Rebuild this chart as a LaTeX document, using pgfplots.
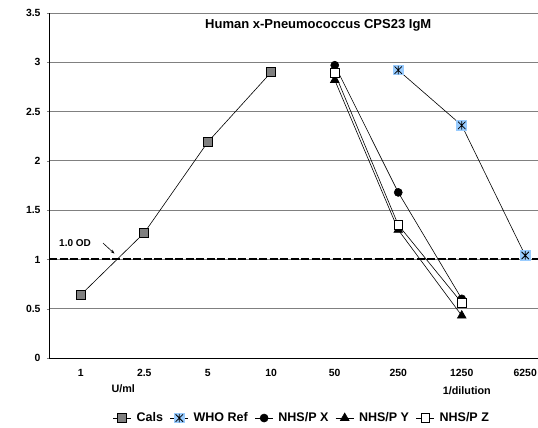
\documentclass[border=0pt]{standalone}
\usepackage{pgfplots}
\pgfplotsset{compat=1.18}
\usepackage{fontspec}
\setmainfont{Liberation Sans}
\usetikzlibrary{arrows.meta}

\definecolor{calgray}{RGB}{128,128,128}
\definecolor{whoblue}{RGB}{153,204,255}

% light blue square with a black star on it (WHO Ref marker)
\pgfdeclareplotmark{whoref}{%
  \pgfpathrectangle{\pgfpoint{-\pgfplotmarksize}{-\pgfplotmarksize}}{\pgfpoint{2\pgfplotmarksize}{2\pgfplotmarksize}}%
  \pgfsetfillcolor{whoblue}\pgfusepath{fill}%
  \pgfsetstrokecolor{black}\pgfsetlinewidth{0.8pt}%
  \pgfpathmoveto{\pgfpoint{-0.7\pgfplotmarksize}{-0.7\pgfplotmarksize}}%
  \pgfpathlineto{\pgfpoint{0.7\pgfplotmarksize}{0.7\pgfplotmarksize}}%
  \pgfpathmoveto{\pgfpoint{-0.7\pgfplotmarksize}{0.7\pgfplotmarksize}}%
  \pgfpathlineto{\pgfpoint{0.7\pgfplotmarksize}{-0.7\pgfplotmarksize}}%
  \pgfpathmoveto{\pgfpoint{0pt}{-0.8\pgfplotmarksize}}%
  \pgfpathlineto{\pgfpoint{0pt}{0.8\pgfplotmarksize}}%
  \pgfusepath{stroke}}

\begin{document}
\begin{tikzpicture}
\begin{axis}[
    scale only axis,
    width=508pt, height=345pt,
    xmin=0.5, xmax=8.5,
    ymin=0, ymax=3.5,
    clip=false,
    axis x line*=bottom,
    axis y line*=left,
    axis line style={black, line width=0.8pt},
    xtick={1,...,8},
    xticklabels={1,2.5,5,10,50,250,1250,6250},
    major x tick style={draw=none},
    extra x ticks={0.5,1.5,...,7.5},
    extra x tick labels={},
    extra x tick style={tick align=outside, major tick length=4pt, tick style={black, line width=0.6pt}},
    ytick={0,0.5,...,3.5},
    tick align=outside,
    major tick length=2pt,
    ymajorgrids,
    grid style={gray, line width=0.8pt},
    /pgf/number format/assume math mode=true,
    tick label style={font=\fontsize{10.4}{12}\selectfont\bfseries},
    xticklabel style={yshift=-6pt},
    yticklabel style={xshift=-3pt},
    legend style={draw=none, fill=none, at={(0.498,-0.174)}, anchor=center,
        legend columns=5, font=\fontsize{12.5}{14}\selectfont\bfseries,
        /tikz/every odd column/.append style={column sep=3pt},
        /tikz/every even column/.append style={column sep=5pt}},
    legend image code/.code={%
        \draw[line width=0.6pt] (0pt,0pt) -- (18pt,0pt);
        \draw plot[mark repeat=1] coordinates {(9pt,0pt)};},
    every axis plot/.append style={black, line width=0.6pt},
]
\addplot[black, line width=2pt, dash pattern=on 8pt off 2.5pt, forget plot] coordinates {(0.5,1) (8.5,1)};

\addplot[mark=square*, mark size=4.5pt, mark options={fill=calgray, draw=black, line width=0.7pt}]
  coordinates {(1,0.64) (2,1.27) (3,2.19) (4,2.90)};
\addlegendentry{Cals}
\addplot[mark=whoref, mark size=5.3pt]
  coordinates {(6,2.92) (7,2.36) (8,1.04)};
\addlegendentry{WHO Ref}
\addplot[mark=*, mark size=4pt, mark options={fill=black}]
  coordinates {(5,2.97) (6,1.68) (7,0.60)};
\addlegendentry{NHS/P X}
\addplot[mark=triangle*, mark size=5pt, mark options={fill=black}]
  coordinates {(5,2.82) (6,1.30) (7,0.43)};
\addlegendentry{NHS/P Y}
\addplot[mark=square*, mark size=4.3pt, mark options={fill=white, draw=black, line width=0.7pt}]
  coordinates {(5,2.89) (6,1.35) (7,0.56)};
\addlegendentry{NHS/P Z}

\node[font=\fontsize{13}{15}\selectfont\bfseries] at (axis cs:4.74,3.37) {Human x-Pneumococcus CPS23 IgM};
\node[font=\fontsize{10}{12}\selectfont\bfseries] at (axis cs:0.91,1.166) {1.0 OD};
\draw[-{Stealth[length=4pt,width=3pt]}, line width=0.6pt] (axis cs:1.35,1.166) -- (axis cs:1.53,1.06);
\node[font=\fontsize{10.8}{12}\selectfont\bfseries] at (axis cs:1.67,-0.314) {U/ml};
\node[font=\fontsize{10.8}{12}\selectfont\bfseries] at (axis cs:7.08,-0.335) {1/dilution};
\end{axis}
\pgfresetboundingbox
\path (-49pt,-70pt) rectangle (489pt,358pt);
\end{tikzpicture}
\end{document}
